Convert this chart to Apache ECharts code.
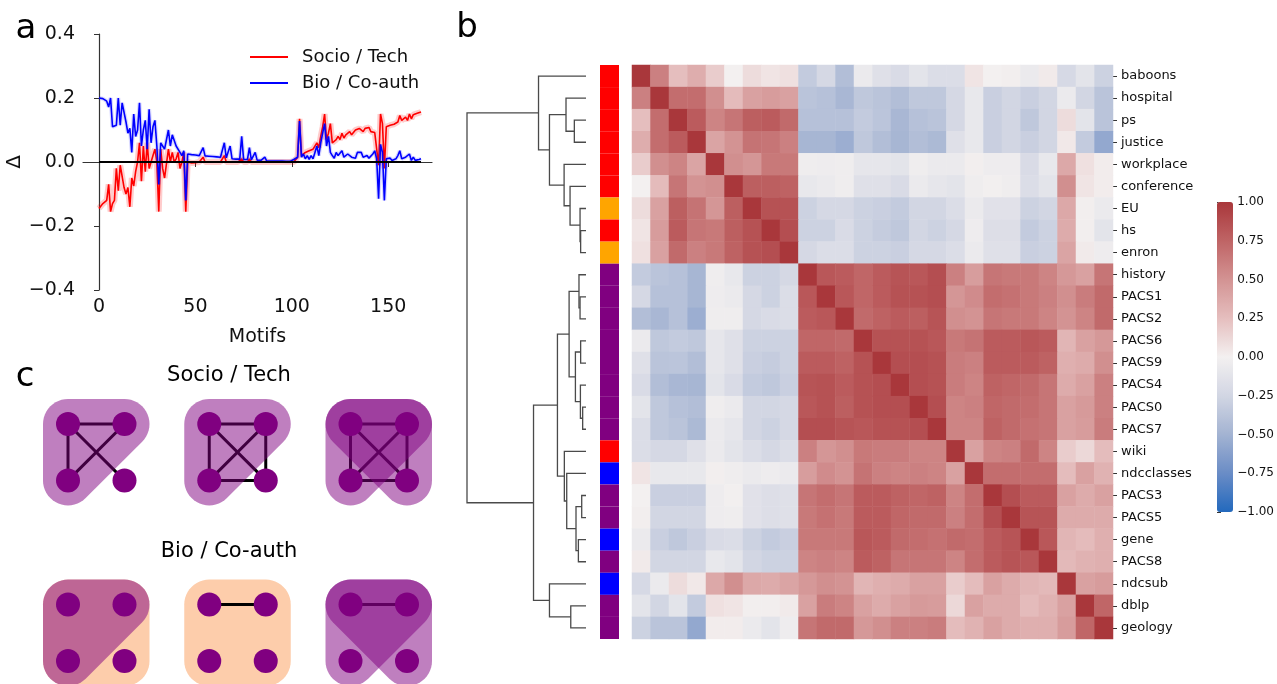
<!DOCTYPE html>
<html>
<head>
<meta charset="utf-8">
<title>motifs</title>
<script src="https://cdn.jsdelivr.net/npm/echarts@6/dist/echarts.min.js"></script>
<style>html,body{margin:0;padding:0;background:#fff}#main{width:1277px;height:684px}</style>
</head>
<body>
<div id="main"></div>
<script>
// ---- panel a: delta per motif ----
var socioTech = [
 -0.145,-0.140,-0.130,-0.135,-0.120,-0.070,-0.155,-0.130,-0.120,-0.020,
 -0.090,-0.010,-0.005,-0.080,-0.100,-0.080,-0.140,-0.050,-0.075,-0.030,
  0.000, 0.060,-0.060, 0.050,-0.030, 0.060,-0.020, 0.000, 0.020, 0.040,
  0.000,-0.155, 0.040,-0.020,-0.050,-0.045, 0.040, 0.000, 0.030, 0.000,
  0.010, 0.030,-0.020, 0.000, 0.030,-0.155, 0.000,-0.003,-0.003,-0.003,
 -0.002, 0.000, 0.000, 0.000, 0.015, 0.000, 0.000, 0.000, 0.000, 0.000,
  0.000, 0.000, 0.000, 0.000, 0.000, 0.020, 0.000, 0.000, 0.000, 0.000,
  0.000, 0.000, 0.000, 0.000, 0.010, 0.000, 0.000, 0.000, 0.010, 0.000,
  0.000, 0.000, 0.000, 0.000, 0.000, 0.000, 0.000, 0.000, 0.000, 0.000,
  0.000, 0.000, 0.000, 0.000, 0.000, 0.000, 0.000, 0.000, 0.000, 0.000,
  0.000, 0.000, 0.005, 0.015, 0.135, 0.020, 0.025, 0.030, 0.025, 0.035,
  0.030, 0.040, 0.035, 0.060, 0.045, 0.080, 0.110, 0.150, 0.070, 0.090,
  0.120, 0.060, 0.065, 0.070, 0.080, 0.070, 0.090, 0.075, 0.085, 0.080,
  0.095, 0.085, 0.090, 0.100, 0.095, 0.105, 0.100, 0.095, 0.105, 0.100,
  0.108, 0.095, 0.090, 0.092, 0.090,-0.010, 0.150, 0.120,-0.020, 0.110,
  0.115, 0.115, 0.120, 0.118, 0.122, 0.125, 0.145, 0.130, 0.135, 0.140,
  0.130, 0.150, 0.135, 0.148, 0.142, 0.152, 0.150, 0.156
];
var bioCoauth = [
  0.200, 0.200, 0.198, 0.195, 0.190, 0.172, 0.200, 0.110, 0.110, 0.115,
  0.200, 0.115, 0.185, 0.185, 0.125, 0.090, 0.105, 0.030, 0.150, 0.080,
  0.100, 0.185, 0.050, 0.100, 0.130, 0.040, 0.165, 0.060, 0.110, 0.130,
  0.050,-0.070, 0.060, 0.050, 0.040, 0.045, 0.100, 0.050, 0.085, 0.080,
  0.050, 0.050, 0.030, 0.020, 0.035,-0.120, 0.025, 0.024, 0.023, 0.022,
  0.022, 0.021, 0.020, 0.020, 0.045, 0.019, 0.018, 0.018, 0.017, 0.017,
  0.016, 0.016, 0.015, 0.015, 0.014, 0.060, 0.013, 0.012, 0.050, 0.010,
  0.010, 0.009, 0.009, 0.009, 0.080, 0.008, 0.008, 0.008, 0.045, 0.007,
  0.007, 0.030, 0.006, 0.006, 0.005, 0.005, 0.015, 0.003, 0.003, 0.003,
  0.003, 0.003, 0.003, 0.003, 0.003, 0.003, 0.003, 0.002, 0.002, 0.002,
  0.002, 0.008, 0.008, 0.015, 0.128, 0.015, 0.025, 0.010, 0.020, 0.008,
  0.020, 0.010, 0.030, 0.050, 0.020, 0.060, 0.090, 0.120, 0.050, 0.080,
  0.030, 0.020, 0.012, 0.030, 0.020, 0.015, 0.035, 0.015, 0.010, 0.025,
  0.030, 0.015, 0.010, 0.012, 0.030, 0.025, 0.030, 0.015, 0.010, 0.020,
  0.012, 0.008, 0.025, 0.035, 0.010,-0.115, 0.055, 0.030,-0.120, 0.010,
  0.015, 0.012, 0.005, 0.008, 0.010, 0.020, 0.035, 0.010, 0.005, 0.015,
  0.010, 0.025, 0.005, 0.015, 0.005, 0.010, 0.008, 0.010
];
var motifTicks = [0, 50, 100, 150];

// ---- panel b: correlation matrix (lower triangle, row order = leaves) ----
var leafNames = ['baboons','hospital','ps','justice','workplace','conference','EU','hs','enron',
  'history','PACS1','PACS2','PACS6','PACS9','PACS4','PACS0','PACS7','wiki','ndcclasses',
  'PACS3','PACS5','gene','PACS8','ndcsub','dblp','geology'];
var leafColors = ['#ff0000','#ff0000','#ff0000','#ff0000','#ff0000','#ff0000','#ffa500','#ff0000','#ffa500',
  '#800080','#800080','#800080','#800080','#800080','#800080','#800080','#800080','#ff0000','#0000ff',
  '#800080','#800080','#0000ff','#800080','#0000ff','#800080','#800080'];
var corrLower = [
 [],
 [0.60],
 [0.25,0.70],
 [0.35,0.70,0.80],
 [0.18,0.52,0.58,0.40],
 [0.00,0.27,0.66,0.50,0.52],
 [0.10,0.42,0.78,0.67,0.48,0.78],
 [0.06,0.45,0.80,0.66,0.64,0.78,0.85],
 [0.08,0.42,0.72,0.60,0.64,0.76,0.85,0.87],
 [-0.33,-0.38,-0.40,-0.48,-0.03,-0.08,-0.28,-0.28,-0.23],
 [-0.23,-0.40,-0.40,-0.48,-0.04,-0.06,-0.23,-0.28,-0.18,0.82],
 [-0.42,-0.47,-0.40,-0.53,-0.03,-0.03,-0.23,-0.20,-0.18,0.80,0.82],
 [-0.06,-0.35,-0.33,-0.35,-0.10,-0.15,-0.28,-0.28,-0.28,0.74,0.74,0.72],
 [-0.15,-0.38,-0.37,-0.42,-0.10,-0.15,-0.30,-0.32,-0.28,0.80,0.80,0.76,0.85],
 [-0.20,-0.42,-0.47,-0.48,-0.12,-0.20,-0.33,-0.35,-0.30,0.84,0.85,0.80,0.85,0.87],
 [-0.12,-0.35,-0.40,-0.42,-0.03,-0.06,-0.25,-0.25,-0.23,0.82,0.85,0.78,0.85,0.87,0.87],
 [-0.18,-0.35,-0.38,-0.45,-0.06,-0.10,-0.25,-0.28,-0.23,0.87,0.87,0.84,0.82,0.85,0.85,0.87],
 [-0.18,-0.23,-0.23,-0.15,-0.06,-0.12,-0.18,-0.23,-0.18,0.60,0.48,0.52,0.64,0.62,0.62,0.58,0.58],
 [0.06,-0.08,-0.08,-0.08,0.01,-0.03,-0.06,-0.04,-0.06,0.44,0.54,0.50,0.67,0.60,0.58,0.60,0.58,0.42],
 [0.00,-0.30,-0.30,-0.30,-0.04,-0.01,-0.14,-0.17,-0.15,0.66,0.70,0.66,0.80,0.80,0.76,0.74,0.76,0.58,0.70],
 [0.01,-0.25,-0.25,-0.25,-0.04,-0.03,-0.14,-0.17,-0.15,0.64,0.68,0.64,0.80,0.80,0.74,0.72,0.72,0.60,0.70,0.87],
 [-0.06,-0.30,-0.35,-0.30,-0.20,-0.18,-0.28,-0.33,-0.30,0.64,0.64,0.64,0.82,0.80,0.72,0.70,0.68,0.72,0.70,0.80,0.84],
 [0.03,-0.25,-0.25,-0.25,-0.08,-0.12,-0.25,-0.28,-0.28,0.58,0.60,0.58,0.80,0.76,0.66,0.66,0.66,0.58,0.70,0.80,0.84,0.82],
 [-0.22,-0.06,0.10,0.04,0.38,0.52,0.38,0.36,0.40,0.47,0.52,0.50,0.30,0.34,0.36,0.42,0.42,0.18,0.26,0.42,0.36,0.30,0.28],
 [-0.12,-0.25,-0.12,-0.33,0.08,0.06,0.01,0.01,0.03,0.42,0.62,0.58,0.42,0.36,0.42,0.46,0.45,0.12,0.42,0.36,0.36,0.27,0.32,0.42],
 [-0.28,-0.38,-0.38,-0.57,0.02,0.02,-0.06,-0.12,-0.04,0.66,0.72,0.72,0.47,0.52,0.60,0.60,0.62,0.26,0.32,0.42,0.36,0.34,0.34,0.45,0.74]
];
// dendrogram merges: [child a, child b, height]; new node ids start at 26
var linkage = [
 [15,16,0.028],[19,20,0.036],[7,8,0.045],[12,13,0.045],[14,26,0.047],
 [10,11,0.050],[6,28,0.050],[9,31,0.059],[21,22,0.064],[27,34,0.084],
 [29,30,0.089],[2,3,0.098],[24,25,0.128],[5,32,0.134],[33,36,0.142],
 [18,35,0.162],[1,37,0.168],[17,41,0.182],[4,39,0.184],[40,43,0.240],
 [42,44,0.307],[23,38,0.307],[0,46,0.399],[45,47,0.441],[48,49,1.000]
];
var vlag = ['#2369bd','#6a8cc6','#a3b3d2','#d2d6e3','#f3f0f0','#e5bebe','#d39393','#bf6465','#a9373b'];

// ---- panel c: motifs (nodes 0 TL, 1 TR, 2 BL, 3 BR) ----
var motifCol = [0, 1, 2, 0, 1, 2];
var motifRow = [0, 0, 0, 1, 1, 1];
var motifEdges = [
 [[0,1],[0,2],[0,3],[1,2]],
 [[0,1],[0,2],[0,3],[1,2],[1,3],[2,3]],
 [[0,1],[0,2],[0,3],[1,2],[1,3],[2,3]],
 [],
 [[0,1]],
 [[0,1]]
];
var motifPurple = [[[0,1,2]], [[0,1,2]], [[0,1,2],[0,1,3]], [[0,1,2]], [], [[0,1,2],[0,1,3]]];
var motifPeach = [[], [], [], [[0,1,2,3]], [[0,1,2,3]], []];

// ---------- build ----------
var N = leafNames.length;
var heatData = [];
for (var i = 0; i < N; i++) {
  for (var j = 0; j < N; j++) {
    var v = i === j ? 1 : (j < i ? corrLower[i][j] : corrLower[j][i]);
    heatData.push([j, i, v]);
  }
}
var nodeY = [], nodeH = [];
for (var k = 0; k < N; k++) { nodeY.push(k); nodeH.push(0); }
var dendroData = [];
linkage.forEach(function (m) {
  var a = m[0], b = m[1];
  dendroData.push([m[2], nodeY[a], nodeY[b], nodeH[a], nodeH[b]]);
  nodeY.push((nodeY[a] + nodeY[b]) / 2);
  nodeH.push(m[2]);
});

function nodePos(m, n) {
  return [motifCol[m] * 2.5 + (n % 2), motifRow[m] * 3.2 + Math.floor(n / 2)];
}
var nodeData = [], edgeData = [], purpleData = [], peachData = [];
for (var m = 0; m < 6; m++) {
  for (var n = 0; n < 4; n++) nodeData.push(nodePos(m, n));
  motifEdges[m].forEach(function (e) {
    var p = nodePos(m, e[0]), q = nodePos(m, e[1]);
    edgeData.push([p[0], p[1], q[0], q[1]]);
  });
  motifPurple[m].forEach(function (h, hi) { purpleData.push([m, hi]); });
  motifPeach[m].forEach(function (h, hi) { peachData.push([m, hi]); });
}

function hull(pts) {
  pts.sort(function (a, b) { return a[0] - b[0] || a[1] - b[1]; });
  function cross(o, a, b) { return (a[0] - o[0]) * (b[1] - o[1]) - (a[1] - o[1]) * (b[0] - o[0]); }
  var lower = [], upper = [];
  pts.forEach(function (p) {
    while (lower.length >= 2 && cross(lower[lower.length - 2], lower[lower.length - 1], p) <= 0) lower.pop();
    lower.push(p);
  });
  for (var i = pts.length - 1; i >= 0; i--) {
    var p = pts[i];
    while (upper.length >= 2 && cross(upper[upper.length - 2], upper[upper.length - 1], p) <= 0) upper.pop();
    upper.push(p);
  }
  upper.pop(); lower.pop();
  return lower.concat(upper);
}
function hullRenderer(sets, fill) {
  return function (params, api) {
    var m = api.value(0), hi = api.value(1);
    var pts = [];
    sets[m][hi].forEach(function (n) {
      var c = api.coord(nodePos(m, n));
      for (var t = 0; t < 48; t++) {
        var ang = t / 48 * Math.PI * 2;
        pts.push([c[0] + 25 * Math.cos(ang), c[1] + 25 * Math.sin(ang)]);
      }
    });
    return { type: 'polygon', shape: { points: hull(pts) }, style: { fill: fill } };
  };
}

var fmtMinus = function (d) { return function (v) { return (v < 0 ? '\u2212' : '') + Math.abs(v).toFixed(d); }; };
var FONT = 'DejaVu Sans';

var option = {
  animation: false,
  textStyle: { fontFamily: FONT },
  grid: [
    { left: 83, top: 34, width: 349, height: 256 },
    { left: 632, top: 65, width: 481, height: 574 },
    { left: 467, top: 65, width: 119, height: 574 },
    { left: 600, top: 65, width: 19, height: 574 },
    { left: 1217, top: 202, width: 16, height: 310 },
    { left: 68, top: 424, width: 339, height: 237 }
  ],
  xAxis: [
    { gridIndex: 0, type: 'value', min: -8.3, max: 172.7, name: 'Motifs', nameLocation: 'middle', nameGap: 38,
      nameTextStyle: { fontSize: 19, color: '#111', fontFamily: FONT },
      axisLine: { lineStyle: { color: '#333', width: 1.2 } },
      axisTick: { customValues: motifTicks, length: 5, lineStyle: { color: '#333' } },
      axisLabel: { customValues: motifTicks, fontSize: 19, color: '#111', margin: 8, fontFamily: FONT },
      splitLine: { show: false } },
    { gridIndex: 1, type: 'category', data: leafNames, show: false },
    { gridIndex: 2, type: 'value', min: 0, max: 1, inverse: true, show: false },
    { gridIndex: 3, type: 'value', min: 0, max: 1, show: false },
    { gridIndex: 4, type: 'value', min: 0, max: 1, show: false },
    { gridIndex: 5, type: 'value', min: 0, max: 6, show: false }
  ],
  yAxis: [
    { gridIndex: 0, type: 'value', min: -0.4, max: 0.4, interval: 0.2, name: '\u0394', nameLocation: 'middle', nameGap: 57,
      nameRotate: 90, nameTextStyle: { fontSize: 20, color: '#111', fontFamily: FONT },
      axisLine: { show: true, lineStyle: { color: '#333', width: 1.2 } },
      axisTick: { show: true, length: 5, lineStyle: { color: '#333' } },
      axisLabel: { fontSize: 19, color: '#111', margin: 8, formatter: fmtMinus(1), fontFamily: FONT },
      splitLine: { show: false } },
    { gridIndex: 1, type: 'category', data: leafNames, inverse: true, position: 'right',
      axisLine: { show: false },
      axisTick: { show: true, alignWithLabel: true, length: 4, lineStyle: { color: '#333' } },
      axisLabel: { fontSize: 13, color: '#111', margin: 8, fontFamily: FONT } },
    { gridIndex: 2, type: 'value', min: -0.5, max: 25.5, inverse: true, show: false },
    { gridIndex: 3, type: 'category', data: leafNames, inverse: true, show: false },
    { gridIndex: 4, type: 'value', min: -1, max: 1, interval: 0.25, position: 'right',
      axisLine: { show: false },
      axisTick: { show: true, length: 4, lineStyle: { color: '#333' } },
      axisLabel: { fontSize: 12, color: '#111', margin: 8, formatter: fmtMinus(2), fontFamily: FONT },
      splitLine: { show: false } },
    { gridIndex: 5, type: 'value', min: 0, max: 4.2, inverse: true, show: false }
  ],
  legend: {
    data: ['Socio / Tech', 'Bio / Co-auth'], orient: 'vertical', left: 250, top: 47, padding: 0,
    icon: 'rect', itemWidth: 38, itemHeight: 2, itemGap: 6,
    textStyle: { fontSize: 18, color: '#111', lineHeight: 20, padding: [0, 0, 0, 9], fontFamily: FONT }
  },
  visualMap: {
    type: 'continuous', min: -1, max: 1, seriesIndex: 5, calculable: false,
    left: 1217, top: 202, itemWidth: 16, itemHeight: 310, padding: 0, text: null,
    inRange: { color: vlag }
  },
  graphic: [
    { type: 'text', x: 26, y: 29, style: { text: 'a', font: '34px "DejaVu Sans"', textAlign: 'center', textVerticalAlign: 'middle', fill: '#000' } },
    { type: 'text', x: 467, y: 28, style: { text: 'b', font: '34px "DejaVu Sans"', textAlign: 'center', textVerticalAlign: 'middle', fill: '#000' } },
    { type: 'text', x: 25, y: 377, style: { text: 'c', font: '34px "DejaVu Sans"', textAlign: 'center', textVerticalAlign: 'middle', fill: '#000' } },
    { type: 'text', x: 229, y: 376, style: { text: 'Socio / Tech', font: '21px "DejaVu Sans"', textAlign: 'center', textVerticalAlign: 'middle', fill: '#000' } },
    { type: 'text', x: 229, y: 552, style: { text: 'Bio / Co-auth', font: '21px "DejaVu Sans"', textAlign: 'center', textVerticalAlign: 'middle', fill: '#000' } }
  ],
  series: [
    { name: 'st band', type: 'line', xAxisIndex: 0, yAxisIndex: 0, showSymbol: false, silent: true, z: 1,
      data: socioTech.map(function (v, i) { return [i, v]; }),
      lineStyle: { width: 6, color: 'rgba(255,0,0,0.2)' }, itemStyle: { color: 'rgba(255,0,0,0.2)' } },
    { name: 'Socio / Tech', type: 'line', xAxisIndex: 0, yAxisIndex: 0, showSymbol: false, z: 2,
      data: socioTech.map(function (v, i) { return [i, v]; }),
      lineStyle: { width: 1.6, color: '#ff0000' }, itemStyle: { color: '#ff0000' } },
    { name: 'bc band', type: 'line', xAxisIndex: 0, yAxisIndex: 0, showSymbol: false, silent: true, z: 3,
      data: bioCoauth.map(function (v, i) { return [i, v]; }),
      lineStyle: { width: 4, color: 'rgba(0,0,255,0.15)' }, itemStyle: { color: 'rgba(0,0,255,0.15)' } },
    { name: 'Bio / Co-auth', type: 'line', xAxisIndex: 0, yAxisIndex: 0, showSymbol: false, z: 4,
      data: bioCoauth.map(function (v, i) { return [i, v]; }),
      lineStyle: { width: 1.6, color: '#0000ff' }, itemStyle: { color: '#0000ff' } },
    { name: 'zero', type: 'line', xAxisIndex: 0, yAxisIndex: 0, showSymbol: false, silent: true, z: 5,
      data: [[0, 0], [socioTech.length - 1, 0]], lineStyle: { width: 2, color: '#000' } },
    { name: 'corr', type: 'heatmap', xAxisIndex: 1, yAxisIndex: 1, data: heatData, silent: true },
    { name: 'dendro', type: 'custom', xAxisIndex: 2, yAxisIndex: 2, data: dendroData, silent: true,
      renderItem: function (params, api) {
        var h = api.value(0), ya = api.value(1), yb = api.value(2), ha = api.value(3), hb = api.value(4);
        var pts = [api.coord([ha, ya]), api.coord([h, ya]), api.coord([h, yb]), api.coord([hb, yb])];
        return { type: 'polyline', shape: { points: pts }, style: { stroke: '#4a4a4a', lineWidth: 1.3, fill: null } };
      } },
    { name: 'side', type: 'bar', xAxisIndex: 3, yAxisIndex: 3, barWidth: '100%', silent: true,
      data: leafColors.map(function (c) { return { value: 1, itemStyle: { color: c } }; }) },
    { name: 'cbar', type: 'line', xAxisIndex: 4, yAxisIndex: 4, data: [] },
    { name: 'peach', type: 'custom', xAxisIndex: 5, yAxisIndex: 5, data: peachData, z: 1, silent: true,
      renderItem: hullRenderer(motifPeach, '#fdcdab') },
    { name: 'edges', type: 'custom', xAxisIndex: 5, yAxisIndex: 5, data: edgeData, z: 2, silent: true,
      renderItem: function (params, api) {
        var p = api.coord([api.value(0), api.value(1)]), q = api.coord([api.value(2), api.value(3)]);
        return { type: 'line', shape: { x1: p[0], y1: p[1], x2: q[0], y2: q[1] }, style: { stroke: '#000', lineWidth: 3 } };
      } },
    { name: 'purple', type: 'custom', xAxisIndex: 5, yAxisIndex: 5, data: purpleData, z: 3, silent: true,
      renderItem: hullRenderer(motifPurple, 'rgba(128,0,128,0.5)') },
    { name: 'nodes', type: 'scatter', xAxisIndex: 5, yAxisIndex: 5, data: nodeData, z: 4, silent: true,
      symbolSize: 24, itemStyle: { color: '#800080', opacity: 1 } }
  ]
};
var chart = echarts.init(document.getElementById('main'));
chart.setOption(option);
</script>
</body>
</html>
